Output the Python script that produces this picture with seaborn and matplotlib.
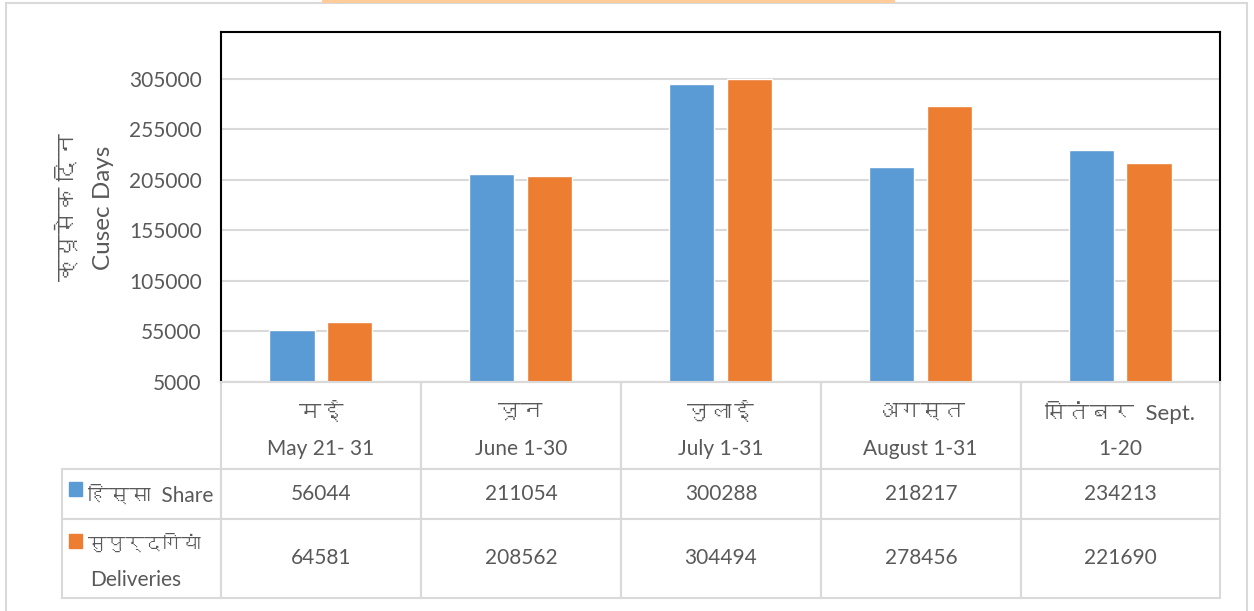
import numpy as np
import pandas as pd
import seaborn as sns
import matplotlib
matplotlib.use("Agg")
import matplotlib.pyplot as plt
import matplotlib.transforms as mtransforms
from matplotlib.patches import Rectangle
from matplotlib import font_manager as fm
from matplotlib.ft2font import FT2Font

# data
months = ["May", "June", "July", "August", "Sept"]
month_hi = ["मई", "जून", "जुलाई", "अगस्त", "सितंबर  Sept."]
month_en = ["May 21- 31", "June 1-30", "July 1-31", "August 1-31", "1-20"]
share = [56044, 211054, 300288, 218217, 234213]
deliveries = [64581, 208562, 304494, 278456, 221690]
yticks = [5000, 55000, 105000, 155000, 205000, 255000, 305000]

blue = "#5B9BD5"
orange = "#ED7D31"
grey_txt = "#595959"
line_c = "#D9D9D9"

sns.set_theme(style="white")

# look for any installed font that has devanagari glyphs (regular weight preferred)
deva = None
cands = []
for f in fm.fontManager.ttflist:
    try:
        if 0x0915 in FT2Font(f.fname).get_charmap():
            cands.append(f)
    except Exception:
        pass
if cands:
    cands.sort(key=lambda f: (f.style != "normal", abs(int(f.weight) - 400) if str(f.weight).isdigit() else 0))
    deva = cands[0].name
fams = ["Lato"] + ([deva] if deva else []) + ["DejaVu Sans"]
plt.rcParams["font.family"] = fams

df = pd.DataFrame({
    "month": months * 2,
    "value": share + deliveries,
    "series": ["Share"] * 5 + ["Deliveries"] * 5,
})

fig = plt.figure(figsize=(12.54, 6.11), dpi=100)
ax = fig.add_axes([221 / 1254, 1 - 382 / 611, 999 / 1254, 350 / 611])

sns.barplot(data=df, x="month", y="value", hue="series", palette=[blue, orange],
            width=0.58, gap=0.22, legend=False, ax=ax, saturation=1)

ax.set_ylim(5000, 351500)
ax.set_xlim(-0.5, 4.5)
ax.set_yticks(yticks)
ax.set_yticklabels([str(v) for v in yticks], fontsize=15, color=grey_txt)
ax.tick_params(axis="y", length=0, pad=14)
ax.set_xticks([])
ax.set_xlabel("")
ax.set_ylabel("")
ax.grid(axis="y", color=line_c, lw=1.5)
ax.set_axisbelow(True)
for s in ["left", "top", "right"]:
    ax.spines[s].set_color("black")
    ax.spines[s].set_linewidth(1.5)
ax.spines["bottom"].set_color(line_c)
ax.spines["bottom"].set_linewidth(1.5)

# data table under the plot
cell_text = [[""] * 6,
             [""] + [str(v) for v in share],
             [""] + [str(v) for v in deliveries]]
x0 = (62 - 221) / 999
tab = ax.table(cellText=cell_text, cellLoc="center",
               bbox=[x0, -216 / 350, 1158 / 999, 216 / 350])
tab.auto_set_font_size(False)
row_h = [87, 50, 79]
col_w = [159, 200, 200, 200, 200, 199]
for (r, c), cell in tab.get_celld().items():
    cell.set_edgecolor(line_c)
    cell.set_linewidth(1.5)
    cell.set_height(row_h[r])
    cell.set_width(col_w[c])
    cell.get_text().set_fontsize(15)
    cell.get_text().set_color(grey_txt)
tab[0, 0].visible_edges = "open"

# month headers
trans = mtransforms.blended_transform_factory(ax.transData, ax.transAxes)
for i in range(len(months)):
    ax.text(i, (382 - 412) / 350, month_hi[i], transform=trans, ha="center", va="center",
            fontsize=16, color=grey_txt)
    ax.text(i, (382 - 449) / 350, month_en[i], transform=trans, ha="center", va="center",
            fontsize=15, color=grey_txt)

# row labels with colour keys
ax.add_patch(Rectangle(((69 - 221) / 999, (382 - 496) / 350), 13 / 999, 14 / 350,
                       transform=ax.transAxes, color=blue, clip_on=False))
ax.add_patch(Rectangle(((69 - 221) / 999, (382 - 548) / 350), 13 / 999, 14 / 350,
                       transform=ax.transAxes, color=orange, clip_on=False))
ax.text((88 - 221) / 999, (382 - 496) / 350, "हिस्सा  Share", transform=ax.transAxes,
        ha="left", va="center", fontsize=15, color=grey_txt)
ax.text((88 - 221) / 999, (382 - 543) / 350, "सुपुर्दगियां", transform=ax.transAxes,
        ha="left", va="center", fontsize=13.5, color=grey_txt)
ax.text((136 - 221) / 999, (382 - 580) / 350, "Deliveries", transform=ax.transAxes,
        ha="center", va="center", fontsize=15, color=grey_txt)

# y axis title
fig.text(67 / 1254, 1 - 207 / 611, "क्यूसेक दिन", rotation=90, ha="center", va="center",
         fontsize=17, color=grey_txt)
fig.text(104 / 1254, 1 - 208 / 611, "Cusec Days", rotation=90, ha="center", va="center",
         fontsize=17.5, color=grey_txt)

# outer frame and the orange strip at the top
fig.patches.append(Rectangle((6 / 1254, -0.01), 1241 / 1254, 1 - 3 / 611 + 0.01,
                             transform=fig.transFigure, fill=False, ec=line_c, lw=1.5))
fig.patches.append(Rectangle((322 / 1254, 1 - 3 / 611), 573 / 1254, 3 / 611,
                             transform=fig.transFigure, color="#FFCC99", lw=0))

fig.savefig("out.png", dpi=100)
